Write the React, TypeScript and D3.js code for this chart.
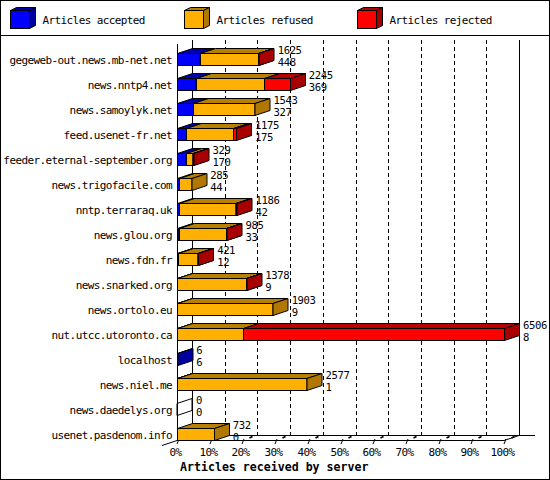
import React from 'react';
import * as d3 from 'd3';

const hosts = [
  'gegeweb-out.news.mb-net.net',
  'news.nntp4.net',
  'news.samoylyk.net',
  'feed.usenet-fr.net',
  'feeder.eternal-september.org',
  'news.trigofacile.com',
  'nntp.terraraq.uk',
  'news.glou.org',
  'news.fdn.fr',
  'news.snarked.org',
  'news.ortolo.eu',
  'nut.utcc.utoronto.ca',
  'localhost',
  'news.niel.me',
  'news.daedelys.org',
  'usenet.pasdenom.info',
];
const accepted = [448, 369, 327, 175, 170, 44, 42, 33, 12, 9, 9, 8, 6, 1, 0, 0];
const refused = [1162, 1368, 1216, 946, 139, 241, 1126, 942, 399, 1359, 1894, 1311, 0, 2576, 0, 732];
const rejected = [15, 508, 0, 54, 20, 0, 18, 10, 10, 10, 0, 5187, 0, 0, 0, 0];
const seriesNames = ['Articles accepted', 'Articles refused', 'Articles rejected'];
const pctTicks = [0, 10, 20, 30, 40, 50, 60, 70, 80, 90, 100];

const colors = [
  { front: '#0000ff', top: '#0000b0', side: '#0000a0' },
  { front: '#ffb000', top: '#b88000', side: '#b07800' },
  { front: '#ff0000', top: '#b80000', side: '#a80000' },
];

const W = 550;
const H = 480;
const DX = 15; // 3d depth of the plot
const DY = 5;
const FONT = "'DejaVu Sans Mono', 'Liberation Mono', monospace";

const box = (xa: number, xb: number, t: number, b: number, c: typeof colors[0], key: string, dx = DX, dy = DY) => (
  <g key={key} stroke="#000" strokeWidth={1}>
    <rect x={xa} y={t} width={Math.max(0, xb - xa)} height={b - t} fill={c.front} />
    <polygon points={`${xa},${t} ${xa + dx},${t - dy} ${xb + dx},${t - dy} ${xb},${t}`} fill={c.top} />
    <polygon points={`${xb},${t} ${xb + dx},${t - dy} ${xb + dx},${b - dy} ${xb},${b}`} fill={c.side} />
  </g>
);

const App: React.FC = () => {
  const totals = hosts.map((_, i) => accepted[i] + refused[i] + rejected[i]);
  const maxTotal = d3.max(totals) || 1;
  const series = [accepted, refused, rejected];

  const x = d3.scaleLinear().domain([0, maxTotal]).range([177, 504]);
  const y = d3.scaleBand().domain(hosts).range([40, 440]);
  const faceOff = 13;
  const faceH = 12;
  const x0 = x(0);
  const floorY = y.range()[1];
  const topY = 44;

  return (
    <svg width={W} height={H} style={{ position: 'absolute', left: 0, top: 0, background: '#fff' }}
      fontFamily={FONT}>
      <rect x={0.5} y={0.5} width={W - 1} height={H - 1} fill="#fff" stroke="#000" />
      <line x1={0} x2={W} y1={35.5} y2={35.5} stroke="#000" />

      {/* legend */}
      {seriesNames.map((name, i) => {
        const lx = Math.round(10 + i * 173.7) + 0.5;
        return (
          <g key={name}>
            {box(lx, lx + 19, 10.5, 28.5, colors[i], 'l' + i, 6, 3)}
            <text x={lx + 32} y={24} fontSize={11} letterSpacing={-0.6}>{name}</text>
          </g>
        );
      })}

      {/* back wall and floor */}
      {pctTicks.slice(1, -1).map(p => {
        const gx = Math.round(x((maxTotal * p) / 100) + DX) + 0.5;
        return <line key={'g' + p} x1={gx} x2={gx} y1={40} y2={floorY - DY} stroke="#000" strokeDasharray="4,3" />;
      })}
      <line x1={x0 + DX + 0.5} x2={x0 + DX + 0.5} y1={40} y2={floorY - DY} stroke="#000" />
      <line x1={x(maxTotal) + DX + 0.5} x2={x(maxTotal) + DX + 0.5} y1={40} y2={floorY - DY} stroke="#000" />
      <line x1={x0 + DX} x2={x(maxTotal) + DX + 16} y1={floorY - DY + 0.5} y2={floorY - DY + 0.5} stroke="#000" />
      <line x1={x0} x2={x(maxTotal)} y1={floorY + 0.5} y2={floorY + 0.5} stroke="#000" />
      <line x1={x(maxTotal)} x2={x(maxTotal) + DX} y1={floorY + 0.5} y2={floorY - DY + 0.5} stroke="#000" />
      <line x1={x0 + DX} x2={x0 - DX} y1={floorY - DY + 0.5} y2={floorY + DY + 0.5} stroke="#000" />

      {/* x ticks */}
      {pctTicks.map(p => {
        const tx = Math.round(x((maxTotal * p) / 100)) + 0.5;
        return (
          <g key={'t' + p}>
            <line x1={tx - 0.5} y1={444} x2={tx + 1.5} y2={439} stroke="#000" />
            <line x1={tx + 7} y1={438} x2={tx + 10} y2={436.5} stroke="#000" strokeWidth={1.6} />
            <text x={tx - 2} y={456} fontSize={11} letterSpacing={-0.6} textAnchor="middle">{p}%</text>
          </g>
        );
      })}

      {/* bars */}
      {hosts.map((h, i) => {
        const t = (y(h) || 0) + faceOff + 0.5;
        const b = t + faceH;
        let cum = 0;
        const parts: React.ReactNode[] = [];
        if (totals[i] === 0) {
          parts.push(
            <polygon key="z" points={`${x0},${t} ${x0 + DX},${t - DY} ${x0 + DX},${b - DY} ${x0},${b}`}
              fill="none" stroke="#000" />
          );
        }
        series.forEach((s, k) => {
          if (s[i] <= 0) return;
          const xa = Math.round(x(cum)) + 0.5;
          cum += s[i];
          const xb = Math.round(x(cum) * 2) / 2 + 0.5;
          parts.push(box(xa, Math.max(xa, xb), t, b, colors[k], 's' + k));
        });
        const xr = x(totals[i]);
        return (
          <g key={h}>
            {parts}
            <text x={172} y={t + 10} fontSize={11} letterSpacing={-0.6} textAnchor="end">{h}</text>
            <text x={xr + 19} y={t + 0.5} fontSize={10.6} letterSpacing={-0.4}>{totals[i]}</text>
            <text x={xr + 19} y={t + 12} fontSize={10.6} letterSpacing={-0.4}>{accepted[i]}</text>
          </g>
        );
      })}

      {/* front y axis */}
      <line x1={x0 + 0.5} x2={x0 + 0.5} y1={topY} y2={floorY} stroke="#000" />

      <text x={180} y={471} fontSize={11.6} fontWeight="bold">Articles received by server</text>
    </svg>
  );
};

export default App;
